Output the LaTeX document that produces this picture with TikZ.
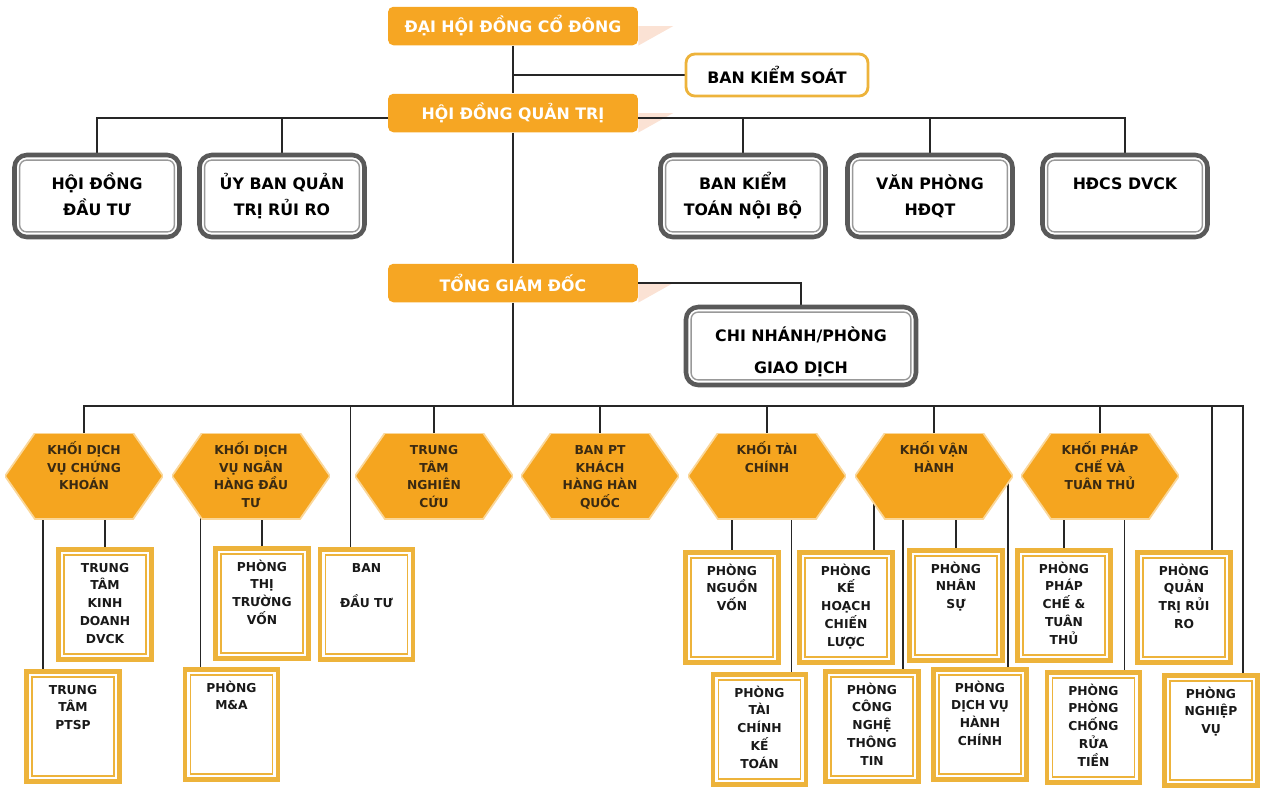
\documentclass[tikz,border=0pt]{standalone}
\usepackage{fontspec}
\setmainfont{DejaVu Sans}
\usetikzlibrary{calc,backgrounds}
\definecolor{topor}{HTML}{F6A623}
\definecolor{hexor}{HTML}{F5A51F}
\definecolor{frameor}{HTML}{EDB33B}
\definecolor{shadepk}{HTML}{FBE2D4}
\definecolor{hextxt}{HTML}{3A2A12}

\begin{document}
\begin{tikzpicture}[x=0.02cm, y=-0.02cm,
    ln/.style={draw=black!85, line width=0.75pt},
    orbox/.style={fill=topor, rounded corners=3pt, minimum width=5cm, minimum height=0.77cm, inner sep=0pt, text=white, font=\fontsize{9}{11}\selectfont\bfseries},
    kiembox/.style={draw=frameor, line width=1.6pt, fill=white, rounded corners=5pt, minimum width=3.64cm, minimum height=0.84cm, inner sep=0pt, font=\fontsize{9}{11}\selectfont\bfseries},
    greyline/.style={draw=black!65, line width=2.6pt, rounded corners=7pt, fill=white, inner sep=0pt,
      path picture={\draw[black!40, line width=0.8pt, rounded corners=4pt] ($(path picture bounding box.south west)+(2.9pt,2.9pt)$) rectangle ($(path picture bounding box.north east)+(-2.9pt,-2.9pt)$);}},
    greybox/.style={greyline, font=\fontsize{9}{14.5}\selectfont\bfseries,
      execute at begin node={\begin{minipage}[t][1.64cm][t]{3.3cm}\centering\rule{0pt}{19.7pt}},
      execute at end node={\end{minipage}}},
    greywide/.style={greyline, font=\fontsize{9}{18}\selectfont\bfseries,
      execute at begin node={\begin{minipage}[t][1.56cm][t]{4.6cm}\centering\rule{0pt}{19.7pt}},
      execute at end node={\end{minipage}}},
    hexbox/.style={inner sep=0pt, text=hextxt, font=\fontsize{7}{9.9}\selectfont\bfseries,
      path picture={\filldraw[fill=hexor, draw=hexor!45, line width=1pt] (path picture bounding box.west) -- ($(path picture bounding box.north west)+(17pt,0pt)$) -- ($(path picture bounding box.north east)+(-17pt,0pt)$) -- (path picture bounding box.east) -- ($(path picture bounding box.south east)+(-17pt,0pt)$) -- ($(path picture bounding box.south west)+(17pt,0pt)$) -- cycle;},
      execute at begin node={\begin{minipage}[t][1.72cm][t]{3.16cm}\centering\rule{0pt}{12.5pt}},
      execute at end node={\end{minipage}}},
    framebox/.style={draw=frameor, line width=2.8pt, fill=white, inner sep=0pt, text=black!90, font=\fontsize{7}{10.2}\selectfont\bfseries,
      path picture={\draw[frameor, line width=0.8pt] ($(path picture bounding box.south west)+(3.2pt,3.2pt)$) rectangle ($(path picture bounding box.north east)+(-3.2pt,-3.2pt)$);},
      execute at begin node={\begin{minipage}[t][2.2cm][t]{1.86cm}\centering\rule{0pt}{12.8pt}},
      execute at end node={\end{minipage}}},
    shadetri/.style={fill=shadepk}
]
\useasboundingbox (0,0) rectangle (1262,792);

\node[orbox] (dhd) at (513,26) {ĐẠI HỘI ĐỒNG CỔ ĐÔNG};
\node[kiembox] (bks) at (777,75) {BAN KIỂM SOÁT};
\node[orbox] (hdqt) at (513,113) {HỘI ĐỒNG QUẢN TRỊ};

\node[greybox] (hddt) at (97,196) {HỘI ĐỒNG\\ĐẦU TƯ};
\node[greybox] (ubqt) at (282,196) {ỦY BAN QUẢN\\TRỊ RỦI RO};
\node[greybox] (bktnb) at (743,196) {BAN KIỂM\\TOÁN NỘI BỘ};
\node[greybox] (vphd) at (930,196) {VĂN PHÒNG\\HĐQT};
\node[greybox] (hdcs) at (1125,196) {HĐCS DVCK};

\node[orbox] (tgd) at (513,283) {TỔNG GIÁM ĐỐC};
\node[greywide] (cnpgd) at (801,346) {CHI NHÁNH/PHÒNG\\GIAO DỊCH};

\node[hexbox] (h1) at (84,476) {KHỐI DỊCH\\VỤ CHỨNG\\KHOÁN};
\node[hexbox] (h2) at (251,476) {KHỐI DỊCH\\VỤ NGÂN\\HÀNG ĐẦU\\TƯ};
\node[hexbox] (h3) at (434,476) {TRUNG\\TÂM\\NGHIÊN\\CỨU};
\node[hexbox] (h4) at (600,476) {BAN PT\\KHÁCH\\HÀNG HÀN\\QUỐC};
\node[hexbox] (h5) at (767,476) {KHỐI TÀI\\CHÍNH};
\node[hexbox] (h6) at (934,476) {KHỐI VẬN\\HÀNH};
\node[hexbox] (h7) at (1100,476) {KHỐI PHÁP\\CHẾ VÀ\\TUÂN THỦ};

\node[framebox] (ttkd) at (105,604.5) {TRUNG\\TÂM\\KINH\\DOANH\\DVCK};
\node[framebox] (pttv) at (262,603.5) {PHÒNG\\THỊ\\TRƯỜNG\\VỐN};
\node[framebox] (bdt) at (366.5,604.5) {BAN\\[10.2pt]ĐẦU TƯ};
\node[framebox] (pnv) at (732,607.5) {PHÒNG\\NGUỒN\\VỐN};
\node[framebox] (pkh) at (846,607.5) {PHÒNG\\KẾ\\HOẠCH\\CHIẾN\\LƯỢC};
\node[framebox] (pns) at (956,605.5) {PHÒNG\\NHÂN\\SỰ};
\node[framebox] (ppc) at (1064,605.5) {PHÒNG\\PHÁP\\CHẾ \&\\TUÂN\\THỦ};
\node[framebox] (pqt) at (1184,607.5) {PHÒNG\\QUẢN\\TRỊ RỦI\\RO};

\node[framebox] (ptsp) at (73,726.5) {TRUNG\\TÂM\\PTSP};
\node[framebox] (pma) at (231.5,724.5) {PHÒNG\\M\&A};
\node[framebox] (ptckt) at (759.5,729.5) {PHÒNG\\TÀI\\CHÍNH\\KẾ\\TOÁN};
\node[framebox] (pcntt) at (872,726.5) {PHÒNG\\CÔNG\\NGHỆ\\THÔNG\\TIN};
\node[framebox] (pdvhc) at (980,724.5) {PHÒNG\\DỊCH VỤ\\HÀNH\\CHÍNH};
\node[framebox] (ppcrt) at (1093.5,727.5) {PHÒNG\\PHÒNG\\CHỐNG\\RỬA\\TIỀN};
\node[framebox] (pnvu) at (1211,730.5) {PHÒNG\\NGHIỆP\\VỤ};

\coordinate (qbus) at (513,118);
\coordinate (mbus) at (513,406);
\coordinate (ptspin) at ($(ptsp.north)+(-30,0)$);
\coordinate (pmain) at ($(pma.north)+(-31,0)$);
\coordinate (bdtin) at ($(bdt.north)+(-16,0)$);
\coordinate (ptcktin) at ($(ptckt.north)+(32,0)$);
\coordinate (pkhin) at ($(pkh.north)+(28,0)$);
\coordinate (pcnttin) at ($(pcntt.north)+(31,0)$);
\coordinate (pdvhcin) at ($(pdvhc.north)+(28,0)$);
\coordinate (ppcrtin) at ($(ppcrt.north)+(31,0)$);
\coordinate (pqtin) at ($(pqt.north)+(28,0)$);
\coordinate (pnvuin) at ($(pnvu.north)+(32,0)$);

\begin{scope}[on background layer]
\fill[shadetri] (dhd.east) -- ++(35,0) -- (dhd.south east) -- cycle;
\fill[shadetri] (hdqt.east) -- ++(35,0) -- (hdqt.south east) -- cycle;
\fill[shadetri] (tgd.east) -- ++(35,0) -- (tgd.south east) -- cycle;

\draw[ln] (dhd) -- (hdqt);
\draw[ln] (dhd |- bks) -- (bks);
\draw[ln] (hddt.north) |- (qbus) -| (hdcs.north);
\foreach \nd in {ubqt,bktnb,vphd}
  \draw[ln] (\nd.north) -- (\nd.north |- qbus);
\draw[ln] (hdqt) -- (tgd) -- (mbus);
\draw[ln] (tgd.east) -| (cnpgd.north);

\draw[ln] (h1.north) |- (mbus) -| (pnvuin);
\foreach \nd in {h3.north,h4.north,h5.north,h6.north,h7.north,bdtin,pqtin}
  \draw[ln] (\nd) -- (\nd |- mbus);

\foreach \hx/\bx in {h1/ptspin,h1/ttkd.north,h2/pmain,h2/pttv.north,h5/pnv.north,h5/ptcktin,h6/pkhin,h6/pcnttin,h6/pns.north,h6/pdvhcin,h7/ppc.north,h7/ppcrtin}
  \draw[ln] (\bx |- \hx.center) -- (\bx);
\end{scope}
\end{tikzpicture}
\end{document}
